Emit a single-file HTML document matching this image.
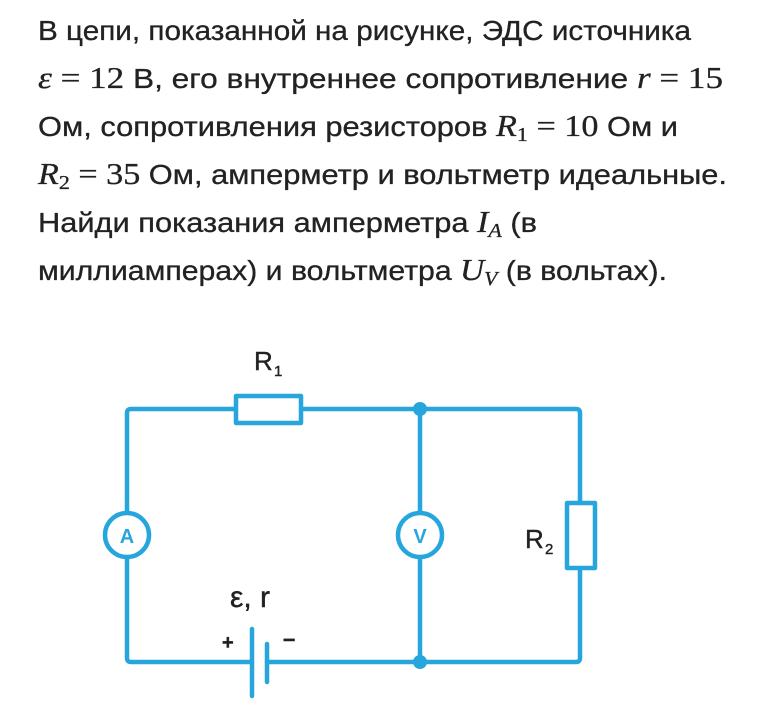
<!DOCTYPE html>
<html><head><meta charset="utf-8"><style>
html,body{margin:0;padding:0;background:#fff;width:780px;height:722px;overflow:hidden}
</style></head><body>
<svg width="780" height="722" viewBox="0 0 780 722" xmlns="http://www.w3.org/2000/svg">
<g font-family="Liberation Sans, sans-serif" font-size="28" fill="#222" stroke="#222" stroke-width="0.3">
<text x="38" y="40" textLength="653" lengthAdjust="spacingAndGlyphs">В цепи, показанной на рисунке, ЭДС источника</text>
<text x="38" y="88" textLength="685" lengthAdjust="spacingAndGlyphs"><tspan font-family="Liberation Serif, serif" font-style="italic" font-size="31">ε</tspan><tspan font-family="Liberation Serif, serif" font-size="31"> = 12 </tspan>В, его внутреннее сопротивление <tspan font-family="Liberation Serif, serif" font-style="italic" font-size="31">r</tspan><tspan font-family="Liberation Serif, serif" font-size="31"> = 15</tspan></text>
<text x="38" y="136" textLength="640" lengthAdjust="spacingAndGlyphs">Ом, сопротивления резисторов <tspan font-family="Liberation Serif, serif" font-style="italic" font-size="31">R</tspan><tspan font-family="Liberation Serif, serif" font-size="20" dy="5">1</tspan><tspan font-family="Liberation Serif, serif" font-size="31" dy="-5"> = 10 </tspan>Ом и</text>
<text x="38" y="184" textLength="689" lengthAdjust="spacingAndGlyphs"><tspan font-family="Liberation Serif, serif" font-style="italic" font-size="31">R</tspan><tspan font-family="Liberation Serif, serif" font-size="20" dy="5">2</tspan><tspan font-family="Liberation Serif, serif" font-size="31" dy="-5"> = 35 </tspan>Ом, амперметр и вольтметр идеальные.</text>
<text x="38" y="232" textLength="499" lengthAdjust="spacingAndGlyphs">Найди показания амперметра <tspan font-family="Liberation Serif, serif" font-style="italic" font-size="31">I</tspan><tspan font-family="Liberation Serif, serif" font-style="italic" font-size="20" dy="5">A</tspan><tspan dy="-5"> (в</tspan></text>
<text x="38" y="280" textLength="629" lengthAdjust="spacingAndGlyphs">миллиамперах) и вольтметра <tspan font-family="Liberation Serif, serif" font-style="italic" font-size="31">U</tspan><tspan font-family="Liberation Serif, serif" font-style="italic" font-size="20" dy="5">V</tspan><tspan dy="-5"> (в вольтах).</tspan></text>
</g>
<g stroke="#27a6de" stroke-width="4.5" fill="none" stroke-linejoin="round" stroke-linecap="round">
<path d="M235 409 H131 Q127 409 127 413 V513"/>
<path d="M127 557 V658 Q127 662 131 662 H251"/>
<path d="M301 409 H576 Q580 409 580 413 V503"/>
<path d="M580 568 V658 Q580 662 576 662 H267"/>
<path d="M420 409 V513 M420 557 V662"/>
<rect x="236" y="396" width="65" height="27" fill="#fff"/>
<rect x="567" y="503" width="28" height="65" fill="#fff"/>
<circle cx="127" cy="535" r="22" fill="#fff"/>
<circle cx="420" cy="535" r="22" fill="#fff"/>
<path d="M252 629 V696 M267 644 V682"/>
</g>
<circle cx="420" cy="409" r="7" fill="#27a6de"/>
<circle cx="420" cy="662" r="7" fill="#27a6de"/>
<g font-family="Liberation Sans, sans-serif" font-weight="bold" fill="#27a6de" font-size="20" text-anchor="middle">
<text x="127" y="543">A</text><text x="420" y="543">V</text>
</g>
<g font-family="Liberation Sans, sans-serif" fill="#222" font-size="26" stroke="#222" stroke-width="0.4">
<text x="254" y="370">R</text><text x="274" y="376" font-size="15">1</text>
<text x="525" y="548">R</text><text x="545" y="554" font-size="15">2</text>
<text x="230" y="607" font-size="30">ε, r</text>
<text x="222" y="649" font-size="20" font-weight="bold">+</text>
<text x="283" y="646" font-size="22" font-weight="bold">–</text>
</g>
</svg>
</body></html>
